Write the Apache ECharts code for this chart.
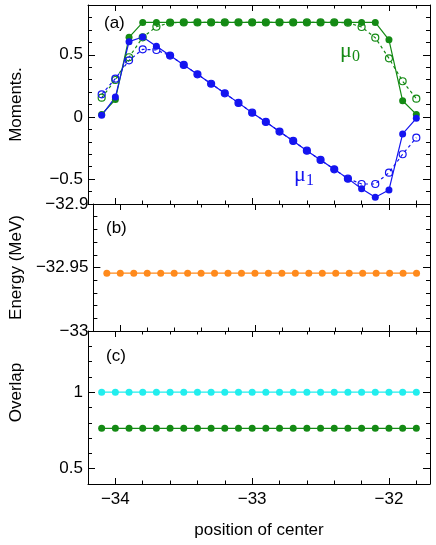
<!DOCTYPE html>
<html>
<head>
<meta charset="utf-8">
<script src="https://cdn.jsdelivr.net/npm/echarts@6/dist/echarts.min.js"></script>
<style>
html, body { margin: 0; background: #fff; }
#chart { width: 436px; height: 545px; }
</style>
</head>
<body>
<div id="chart"></div>
<script>
// position of the center, one point per run
var positions = [-34.1, -34.0, -33.9, -33.8, -33.7, -33.6, -33.5, -33.4, -33.3, -33.2, -33.1, -33.0,
                 -32.9, -32.8, -32.7, -32.6, -32.5, -32.4, -32.3, -32.2, -32.1, -32.0, -31.9, -31.8];

// (a) moments, filled = solid line, open = dashed line
var mu0 = [0.02, 0.14, 0.64, 0.76, 0.76, 0.76, 0.76, 0.76, 0.76, 0.76, 0.76, 0.76,
           0.76, 0.76, 0.76, 0.76, 0.76, 0.76, 0.76, 0.76, 0.76, 0.62, 0.13, 0.02];
var mu0Open = [0.155, 0.297, 0.48, 0.64, 0.725, 0.758, 0.76, 0.76, 0.76, 0.76, 0.76, 0.76,
               0.76, 0.76, 0.76, 0.76, 0.76, 0.76, 0.758, 0.723, 0.637, 0.471, 0.287, 0.147];
var mu1 = [0.013, 0.16, 0.605, 0.643, 0.568, 0.493, 0.418, 0.343, 0.267, 0.19, 0.113, 0.034,
           -0.04, -0.118, -0.193, -0.271, -0.346, -0.421, -0.496, -0.577, -0.646, -0.587, -0.137, -0.011];
var mu1Open = [0.182, 0.308, 0.455, 0.544, 0.538, 0.493, 0.418, 0.343, 0.267, 0.19, 0.113, 0.034,
               -0.04, -0.118, -0.193, -0.271, -0.346, -0.421, -0.496, -0.539, -0.539, -0.448, -0.30, -0.167];

// (b) energy
var energy = [-32.9545, -32.9545, -32.9545, -32.9545, -32.9545, -32.9545, -32.9545, -32.9545,
              -32.9545, -32.9545, -32.9545, -32.9545, -32.9545, -32.9545, -32.9545, -32.9545,
              -32.9545, -32.9545, -32.9545, -32.9545, -32.9545, -32.9545, -32.9545, -32.9545];

// (c) overlaps
var overlapCyan = [1, 1, 1, 1, 1, 1, 1, 1, 1, 1, 1, 1, 1, 1, 1, 1, 1, 1, 1, 1, 1, 1, 1, 1];
var overlapGreen = [0.764, 0.764, 0.764, 0.764, 0.764, 0.764, 0.764, 0.764, 0.764, 0.764, 0.764, 0.764,
                    0.764, 0.764, 0.764, 0.764, 0.764, 0.764, 0.764, 0.764, 0.764, 0.764, 0.764, 0.764];

// tick labels
var xTicks = [-34, -33, -32];
var momentTicks = [-0.5, 0, 0.5];
var energyTicks = [-33, -32.95, -32.9];
var overlapTicks = [0.5, 1];

var FONT = 'Liberation Sans';
var BLUE = '#1414f0', GREEN = '#148a14', ORANGE = '#ff8a1c', CYAN = '#22eeee';

function minus(v) { return String(v).replace('-', '\u2212'); }
function pairs(ys) { return positions.map(function (x, i) { return [x, ys[i]]; }); }

var grids = [
    {left: 87, right: 6, top: 5, height: 199},
    {left: 87, right: 6, top: 204, height: 127},
    {left: 87, right: 6, top: 331, height: 153}
];
var xAxes = [], yAxes = [], panelX = [], panelY = [];

function addPanel(g, ymin, ymax, ystep, majors, labels, yName, namePad, last) {
    panelX.push(xAxes.length);
    panelY.push(yAxes.length);
    ['bottom', 'top'].forEach(function (pos) {
        xAxes.push({
            type: 'value', gridIndex: g, position: pos, min: -34.2, max: -31.7, interval: 0.2,
            axisLine: {show: true, onZero: false, lineStyle: {color: '#000', width: 1}},
            axisTick: {inside: true, length: 3.5, lineStyle: {color: '#000'}},
            axisLabel: {show: false}, splitLine: {show: false}
        });
        var major = {
            type: 'value', gridIndex: g, position: pos, min: -34.2, max: -31.7,
            axisLine: {show: false, onZero: false},
            axisTick: {inside: true, length: 6, customValues: xTicks, lineStyle: {color: '#000'}},
            axisLabel: {show: false}, splitLine: {show: false}
        };
        if (last && pos == 'bottom') {
            major.axisLabel = {show: true, customValues: xTicks, formatter: minus,
                fontFamily: FONT, fontSize: 17, color: '#000', margin: 7};
            major.name = 'position of center';
            major.nameLocation = 'middle';
            major.nameGap = 38;
            major.nameTextStyle = {fontFamily: FONT, fontSize: 17, color: '#000'};
        }
        xAxes.push(major);
    });
    ['left', 'right'].forEach(function (pos) {
        yAxes.push({
            type: 'value', gridIndex: g, position: pos, min: ymin, max: ymax, interval: ystep,
            axisLine: {show: true, onZero: false, lineStyle: {color: '#000', width: 1}},
            axisTick: {inside: true, length: 4, lineStyle: {color: '#000'}},
            axisLabel: {show: false}, splitLine: {show: false}
        });
        var major = {
            type: 'value', gridIndex: g, position: pos, min: ymin, max: ymax,
            axisLine: {show: false, onZero: false},
            axisTick: {inside: true, length: 7, customValues: majors, lineStyle: {color: '#000'}},
            axisLabel: {show: false}, splitLine: {show: false}
        };
        if (pos == 'left') {
            major.axisLabel = {show: true, customValues: labels, formatter: minus,
                fontFamily: FONT, fontSize: 17, color: '#000', margin: 5};
            major.name = yName;
            major.nameLocation = 'middle';
            major.nameGap = 63;
            major.nameTextStyle = {fontFamily: FONT, fontSize: 17, color: '#000', padding: namePad};
        }
        yAxes.push(major);
    });
}

addPanel(0, -0.7, 0.9, 0.1, momentTicks, momentTicks, 'Moments.', [0, 0, 0, 0], false);
addPanel(1, -33, -32.9, 0.01, energyTicks, energyTicks, 'Energy (MeV)', [0, 0, 0, 0], false);
addPanel(2, 0.4, 1.4, 0.1, overlapTicks, overlapTicks, 'Overlap', [0, 0, 0, 30], true);

function filled(g, ys, color) {
    return {
        type: 'line', xAxisIndex: panelX[g], yAxisIndex: panelY[g], data: pairs(ys),
        symbol: 'circle', symbolSize: 7, showSymbol: true,
        itemStyle: {color: color},
        lineStyle: {color: color, width: 1.2}
    };
}
function open(g, ys, color) {
    return {
        type: 'line', xAxisIndex: panelX[g], yAxisIndex: panelY[g], data: pairs(ys),
        symbol: 'circle', symbolSize: 7, showSymbol: true,
        itemStyle: {color: 'rgba(255,255,255,0)', borderColor: color, borderWidth: 1.2},
        lineStyle: {color: color, width: 1.2, type: [3, 3]}
    };
}

var chart = echarts.init(document.getElementById('chart'));
chart.setOption({
    animation: false,
    grid: grids,
    xAxis: xAxes,
    yAxis: yAxes,
    series: [
        open(0, mu0Open, GREEN),
        open(0, mu1Open, BLUE),
        filled(0, mu0, GREEN),
        filled(0, mu1, BLUE),
        filled(1, energy, ORANGE),
        filled(2, overlapCyan, CYAN),
        filled(2, overlapGreen, GREEN)
    ],
    graphic: [
        {type: 'text', left: 104, top: 15, style: {text: '(a)', font: '17px "Liberation Sans"', fill: '#000'}},
        {type: 'text', left: 106, top: 220, style: {text: '(b)', font: '17px "Liberation Sans"', fill: '#000'}},
        {type: 'text', left: 106, top: 348, style: {text: '(c)', font: '17px "Liberation Sans"', fill: '#000'}},
        {type: 'text', left: 340, top: 40, style: {text: 'μ', font: '22px "Liberation Serif"', fill: GREEN}},
        {type: 'text', left: 352, top: 49, style: {text: '0', font: '16px "Liberation Serif"', fill: GREEN}},
        {type: 'text', left: 294, top: 164, style: {text: 'μ', font: '22px "Liberation Serif"', fill: BLUE}},
        {type: 'text', left: 306, top: 173, style: {text: '1', font: '16px "Liberation Serif"', fill: BLUE}}
    ]
});
</script>
</body>
</html>
